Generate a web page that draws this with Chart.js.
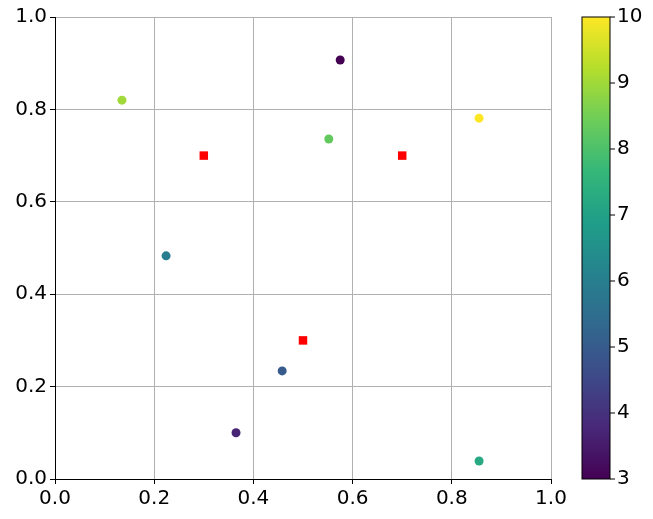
<!DOCTYPE html><html><head><script src="https://cdn.jsdelivr.net/npm/chart.js"></script>
<style>body{margin:0;background:#fff}</style></head><body>
<div style="width:653px;height:519px"><canvas id="c"></canvas></div>
<script>
const ptX=[0.135,0.575,0.552,0.855,0.224,0.458,0.365,0.855];
const ptY=[0.820,0.907,0.736,0.781,0.483,0.234,0.100,0.039];
const ptC=[9.0,3.0,8.3,10.0,6.0,5.0,3.7,7.2];
const sqX=[0.3,0.7,0.5];
const sqY=[0.7,0.7,0.3];
const cbTicks=[3,4,5,6,7,8,9,10];
const vir=[[68,1,84],[72,40,120],[62,74,137],[49,104,142],[38,130,142],[31,158,137],[53,183,121],[109,205,89],[180,222,44],[253,231,37]];
function viridis(t){t=Math.max(0,Math.min(1,t));const p=t*(vir.length-1),i=Math.min(Math.floor(p),vir.length-2),f=p-i;
const c=vir[i].map((v,k)=>Math.round(v+(vir[i+1][k]-v)*f));return `rgb(${c})`;}
const cmin=3,cmax=10;
const font={family:'DejaVu Sans',size:20};
const cbar={id:'cbar',afterDraw(ch){const ctx=ch.ctx,a=ch.chartArea,x0=582,w=28;
const g=ctx.createLinearGradient(0,a.bottom,0,a.top);vir.forEach((c,i)=>g.addColorStop(i/(vir.length-1),`rgb(${c})`));
ctx.save();ctx.fillStyle=g;ctx.fillRect(x0,a.top,w,a.bottom-a.top);ctx.strokeStyle='#000';ctx.lineWidth=1;ctx.strokeRect(x0,a.top,w,a.bottom-a.top);
ctx.fillStyle='#000';ctx.font='20px DejaVu Sans';ctx.textBaseline='middle';
cbTicks.forEach(v=>{const y=a.bottom-(v-cmin)/(cmax-cmin)*(a.bottom-a.top);ctx.beginPath();ctx.moveTo(x0+w,y);ctx.lineTo(x0+w+5,y);ctx.stroke();ctx.fillText(String(v),x0+w+7,y);});
ctx.restore();}};
new Chart(document.getElementById('c'),{type:'scatter',
data:{datasets:[
{data:ptX.map((x,i)=>({x,y:ptY[i]})),pointBackgroundColor:ptC.map(c=>viridis((c-cmin)/(cmax-cmin))),pointBorderWidth:0,pointRadius:4.5},
{data:sqX.map((x,i)=>({x,y:sqY[i]})),pointStyle:'rect',pointBackgroundColor:'#ff0000',pointBorderWidth:0,pointRadius:6}]},
plugins:[cbar],
options:{responsive:true,maintainAspectRatio:false,animation:false,events:[],
layout:{padding:{top:17,right:102,bottom:0,left:0}},
plugins:{legend:{display:false},tooltip:{enabled:false}},
scales:{
x:{min:0,max:1,afterFit:s=>{s.height=40},ticks:{stepSize:0.2,font,color:'#000',maxRotation:0,callback:v=>v.toFixed(1)},grid:{color:'#b0b0b0',tickColor:'#000',tickLength:5},border:{color:'#000'}},
y:{min:0,max:1,afterFit:s=>{s.width=55},ticks:{stepSize:0.2,font,color:'#000',callback:v=>v.toFixed(1)},grid:{color:'#b0b0b0',tickColor:'#000',tickLength:5},border:{color:'#000'}}}}});
</script></body></html>
